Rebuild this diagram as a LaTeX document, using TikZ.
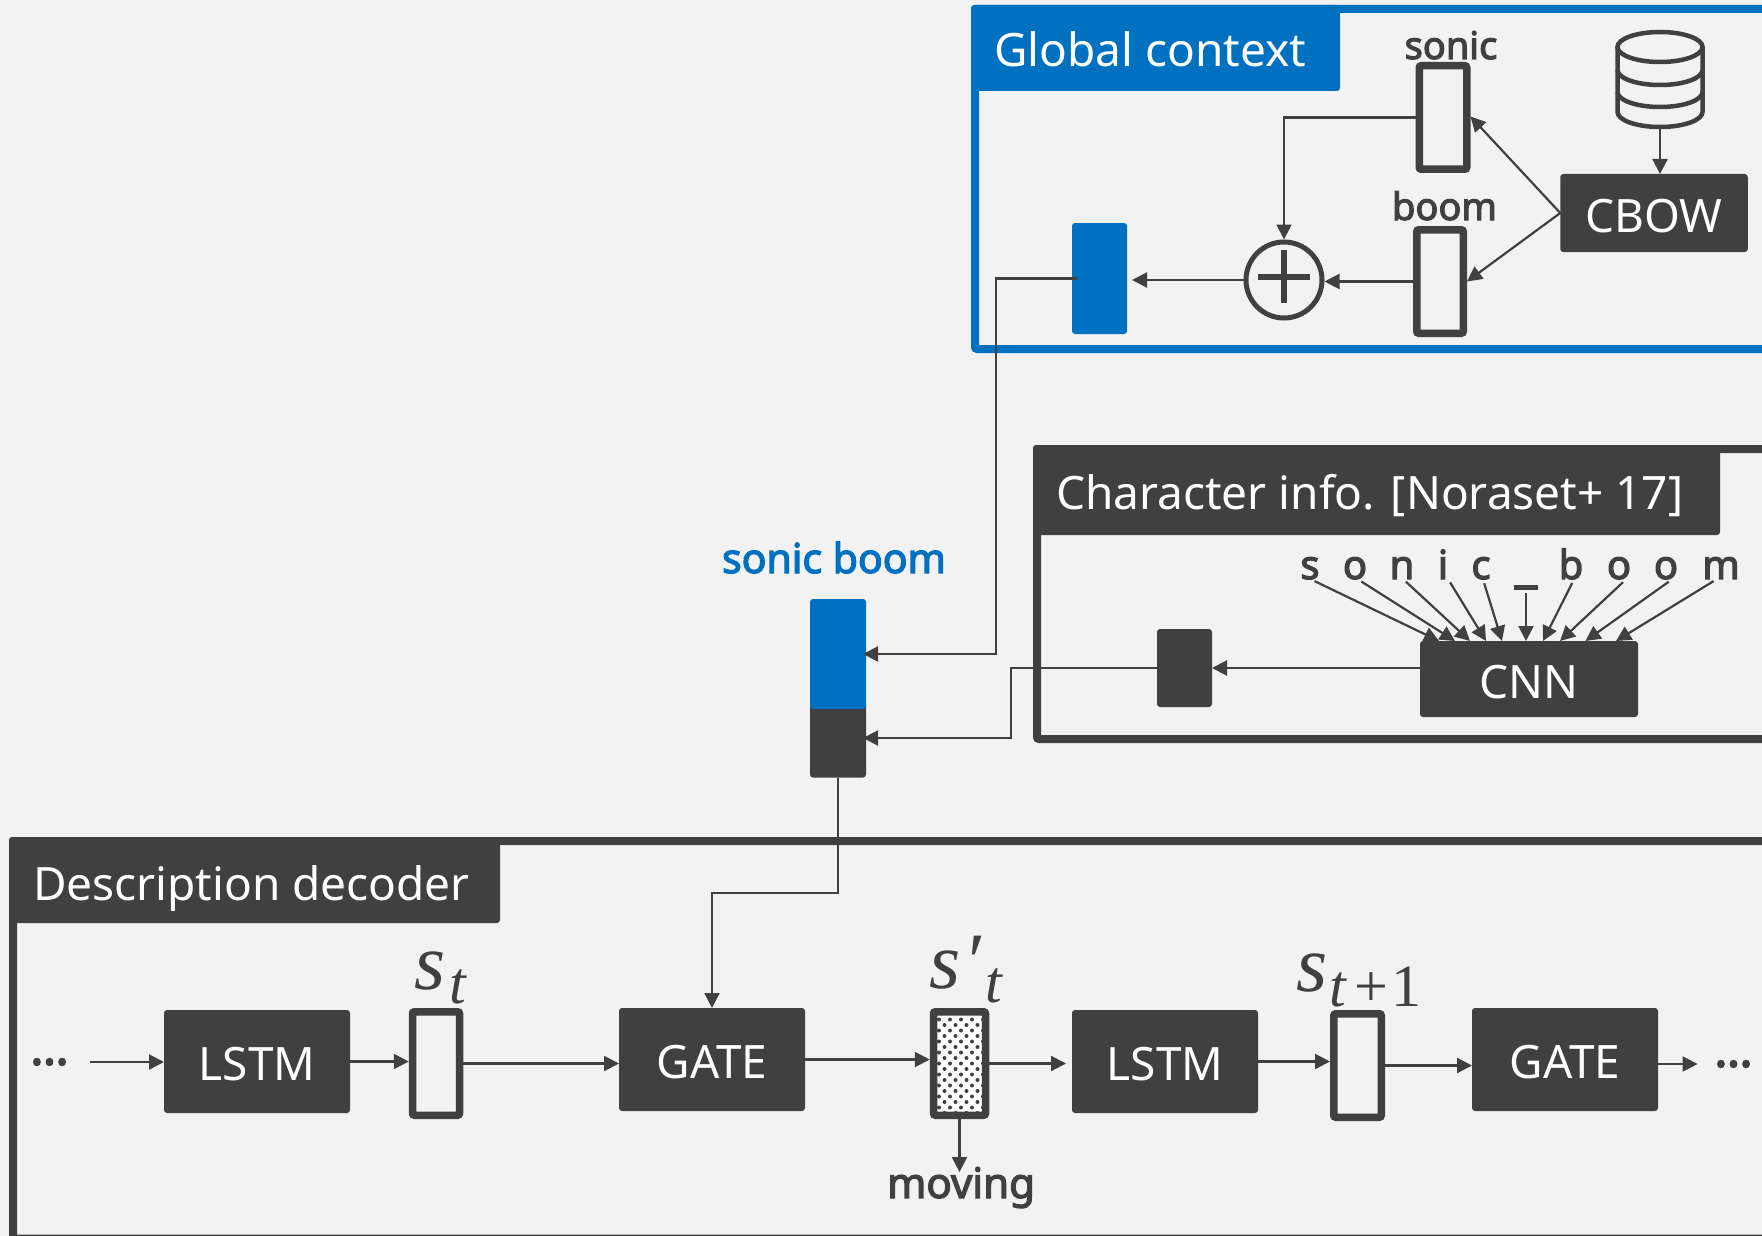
\documentclass[tikz,border=0pt]{standalone}
\usepackage{fontspec}
\usetikzlibrary{arrows.meta,calc}
\setsansfont{Noto Sans}
\newfontfamily\boldsf[FakeBold=3]{Noto Sans}
\newfontfamily\dotsf[FakeBold=4]{Noto Sans}
\newfontfamily\seriffont{Liberation Serif}
\definecolor{dk}{HTML}{404040}
\definecolor{bl}{HTML}{0070C0}
\definecolor{bg}{HTML}{F2F2F2}
\newcommand{\fs}[1]{\fontsize{#1}{#1}\selectfont}
\newcommand{\bigS}{{\fs{80}\seriffont\itshape s}}
\newcommand{\subT}{{\fs{60}\seriffont\itshape t}}
\newcommand{\lab}[1]{\raisebox{-2.5pt}[33pt][0pt]{#1}}
\tikzset{
  x=1pt,y=-1pt,
  every node/.style={font=\sffamily,inner sep=0pt,outer sep=0pt},
  solidbox/.style={fill=dk,rounded corners=3pt,text=white,font=\sffamily\fs{46}},
  bluebox/.style={fill=bl,rounded corners=3pt},
  hollow/.style={draw=dk,line width=7.5pt,fill=bg,rounded corners=2pt,outer sep=3.75pt},
  tabtext/.style={text=white,font=\sffamily\fs{46},anchor=base west},
  boldlabel/.style={text=dk,font=\boldsf\fs{38},anchor=base},
  letter/.style={text=dk,font=\boldsf\fs{40},anchor=base},
  dotlabel/.style={text=dk,font=\dotsf\fs{47}},
  conn/.style={draw=dk,line width=2.2pt,-{Triangle[length=15pt,width=15pt]}},
  mathlab/.style={text=dk,anchor=base west},
}
\begin{document}
\begin{tikzpicture}
\useasboundingbox (0,0) rectangle (1762,1236);
\fill[bg] (0,0) rectangle (1762,1236);

% ---------- panels
\draw[bl,line width=8pt,rounded corners=2pt] (1790,9) -- (975,9) -- (975,349) -- (1790,349);
\fill[bl,rounded corners=3pt] (971,5) rectangle (1340,91);
\draw[dk,line width=8pt,rounded corners=2pt] (1790,449) -- (1037,449) -- (1037,739) -- (1790,739);
\fill[dk,rounded corners=3pt] (1033,445) rectangle (1720,535);
\draw[dk,line width=8pt,rounded corners=2pt] (1790,841) -- (13,841) -- (13,1238.5) -- (1790,1238.5);
\fill[dk,rounded corners=3pt] (9,837) rectangle (500,923);

\node[tabtext] (tg) at (994,67) {Global context};
\node[tabtext] (tc) at (1056,509.5) {Character info. [Noraset+ 17]};
\node[tabtext] (td) at (33,900) {Description decoder};

% ---------- global context
\node[hollow,minimum width=47.5pt,minimum height=103.5pt] (sonic) at (1443,117.5) {};
\node[hollow,minimum width=46.5pt,minimum height=103.5pt] (boom) at (1440,281.5) {};
\node[boldlabel] (lsonic) at (1451,59) {sonic};
\node[boldlabel] (lboom) at (1444.5,220) {boom};
\node[solidbox,minimum width=187.5pt,minimum height=78pt] (cbow) at (1654,213) {\lab{CBOW}};
\node[circle,draw=dk,line width=5pt,fill=bg,minimum size=76pt,outer sep=2.5pt] (plus) at (1284,280) {};
\fill[dk] (1258,273.5) rectangle (1310,279.5);
\fill[dk] (1281,250) rectangle (1287,303);
\node[bluebox,minimum width=55pt,minimum height=111pt] (blue) at (1099.5,278.5) {};

% database cylinder
\node[minimum width=90pt,minimum height=99pt] (db) at (1660,79.5) {};
\draw[dk,line width=4.5pt] (1660,47) ellipse[x radius=42.5,y radius=15];
\draw[dk,line width=4.5pt,line join=round] (1617.5,47) -- (1617.5,112)
   arc[start angle=180,end angle=360,x radius=42.5,y radius=-15] -- (1702.5,47);
\draw[dk,line width=4.5pt] (1617.5,70) arc[start angle=180,end angle=360,x radius=42.5,y radius=-15];
\draw[dk,line width=4.5pt] (1617.5,92) arc[start angle=180,end angle=360,x radius=42.5,y radius=-15];

\draw[conn] (db.south) -- (cbow.north -| db.south);
\draw[conn] (cbow.west) -- ([yshift=1pt]sonic.east);
\draw[conn] (cbow.west) -- (boom.east);
\draw[conn] (sonic.west) -| (plus.north);
\draw[conn] (boom.west) -- (boom.west -| plus.east);
\draw[conn,shorten >=5pt] (plus.west) -- (plus.west -| blue.east);

% ---------- merged vector
\node[text=bl,font=\boldsf\fs{41},anchor=base] (lmerged) at (834,573) {sonic boom};
\node[solidbox,minimum width=56pt,minimum height=74.6pt] (mergeB) at (838,740.3) {};
\node[bluebox,minimum width=56pt,minimum height=110pt] (mergeT) at (838,654) {};

\coordinate (ctxTurn) at (996,654);
\draw[conn,shorten >=-3pt] ([xshift=5pt]blue.west) -| (ctxTurn) -- (mergeT.east);

% ---------- character info
\node[solidbox,minimum width=218pt,minimum height=76pt] (cnn) at (1529,679) {\lab{CNN}};
\node[solidbox,minimum width=55pt,minimum height=78pt] (small) at (1184.5,668) {};
\draw[conn] (cnn.west |- small) -- (small.east);
\coordinate (charTurn) at (1011,738);
\draw[conn,shorten >=-3pt] (small.west) -| (charTurn) -- (charTurn -| mergeB.east);

\node[letter] (c1) at (1310,579) {s};
\node[letter] (c2) at (1355,579) {o};
\node[letter] (c3) at (1402,579) {n};
\node[letter] (c4) at (1443,579) {i};
\node[letter] (c5) at (1481,579) {c};
\node[fill=dk,minimum width=24pt,minimum height=5pt] (c6) at (1526,587) {};
\node[letter] (c7) at (1571,579) {b};
\node[letter] (c8) at (1619,579) {o};
\node[letter] (c9) at (1666,579) {o};
\node[letter] (c10) at (1721,579) {m};
\foreach \n/\dx/\sx in {c1/19/1,c2/35/3,c3/50/1,c4/66/5,c5/82/2,c7/123/3,c8/140/7,c9/165.5/6,c10/196/-4}
  \draw[conn,shorten <=4pt] ([xshift=\sx pt]\n.south) -- ([xshift=\dx pt]cnn.north west);
\draw[conn,shorten <=3pt] (c6.south) -- (c6.south |- cnn.north);

% ---------- decoder
\node[dotlabel] (dotsL) at (49.5,1062) {...};
\node[solidbox,minimum width=186pt,minimum height=103pt] (lstmA) at (257,1061.5) {\lab{LSTM}};
\node[hollow,minimum width=47pt,minimum height=103.5pt] (st) at (436,1063.5) {};
\node[solidbox,minimum width=186pt,minimum height=103pt] (gateA) at (712,1059.5) {\lab{GATE}};
\node[hollow,minimum width=52pt,minimum height=103.5pt,fill=white] (sp) at (959.5,1063.5) {};
\begin{scope}
  \clip (937,1016) rectangle (982,1111);
  \foreach \r in {0,...,18}{
    \foreach \c in {0,...,4}{
      \fill[dk] ({933.5+\c*11+mod(\r,2)*5.5},{1014+\r*5.5}) circle[radius=2];
    }
  }
\end{scope}
\node[solidbox,minimum width=186pt,minimum height=103pt] (lstmB) at (1165,1061.5) {\lab{LSTM}};
\node[hollow,minimum width=47.5pt,minimum height=103.5pt] (stB) at (1357.5,1065.5) {};
\node[solidbox,minimum width=186pt,minimum height=103pt] (gateB) at (1565,1059.5) {\lab{GATE}};
\node[dotlabel] (dotsR) at (1733.5,1064) {...};

\coordinate (gateTurn) at (712,893);
\draw[conn] (mergeB.south) |- (gateTurn) -- (gateA.north);
\draw[conn,shorten <=22pt] (dotsL.east) -- (dotsL.east -| lstmA.west);
\draw[conn] (lstmA.east) -- (lstmA.east -| st.west);
\draw[conn] (st.east) -- (st.east -| gateA.west);
\draw[conn] (gateA.east) -- (gateA.east -| sp.west);
\draw[conn,shorten >=6pt] (sp.east) -- (sp.east -| lstmB.west);
\draw[conn] (lstmB.east) -- (lstmB.east -| stB.west);
\draw[conn] (stB.east) -- (stB.east -| gateB.west);
\draw[conn,shorten >=17pt] (gateB.east |- dotsR) -- (dotsR.west);

\node[text=dk,font=\boldsf\fs{42},anchor=base] (moving) at (961,1198) {moving};
\draw[conn] (sp.south) -- ([yshift=-5pt]moving.north -| sp.south);

\node[mathlab] (ls1) at (414,989) {\makebox[35pt][l]{\bigS}\raisebox{-14pt}{\subT}};
\node[mathlab] (ls2) at (929.5,988) {\makebox[34pt][l]{\bigS}\makebox[21.5pt][l]{\raisebox{0pt}{\fs{80}\seriffont\itshape ′}}\raisebox{-14pt}{\subT}};
\node[mathlab] (ls3) at (1296,991) {\makebox[33pt][l]{\bigS}\raisebox{-15pt}{\makebox[25.5pt][l]{\subT}{\fs{60}\seriffont +\hspace{3pt}1}}};
\end{tikzpicture}
\end{document}
